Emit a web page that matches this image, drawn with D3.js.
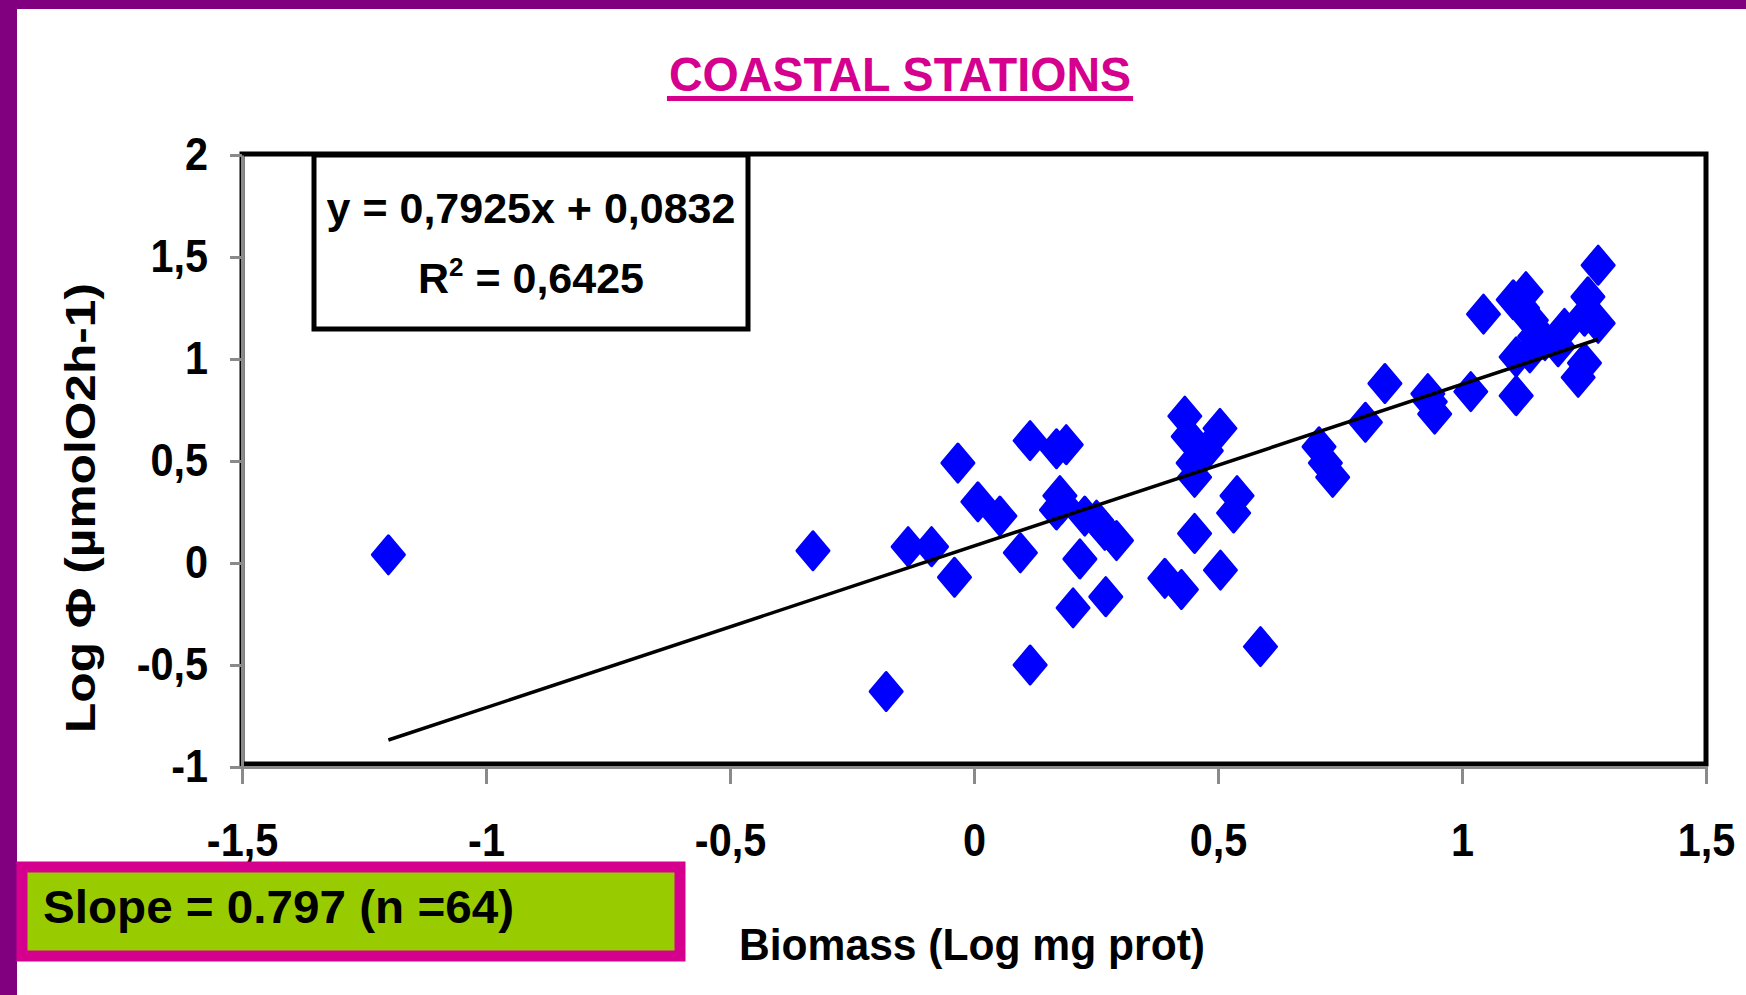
<!DOCTYPE html>
<html>
<head>
<meta charset="utf-8">
<script src="https://cdn.jsdelivr.net/npm/d3@7"></script>
<style>
  body { margin: 0; background: #fff; }
  svg { display: block; font-family: "Liberation Sans", Arial, sans-serif; font-weight: bold; }
  .axis .domain { stroke: #8a8a8a; stroke-width: 3; }
  .axis .tick line { stroke: #8a8a8a; stroke-width: 3; }
  .axis .tick text { fill: #000; font-size: 46px; font-family: "Liberation Sans", Arial, sans-serif; font-weight: bold; }
</style>
</head>
<body>
<div id="chart"></div>
<script>
// chart data
var biomass = [
  -1.20, -0.33, -0.18, -0.135, -0.087, -0.04, -0.033, 0.008, 0.053, 0.095,
  0.115, 0.115, 0.169, 0.189, 0.176, 0.169, 0.203, 0.217, 0.227, 0.251,
  0.27, 0.268, 0.292, 0.391, 0.425, 0.432, 0.439, 0.476, 0.452, 0.449,
  0.452, 0.504, 0.505, 0.539, 0.532, 0.587, 0.18,
  0.707, 0.72, 0.735, 0.802, 0.842, 0.930, 0.944, 0.935, 1.018, 1.044,
  1.105, 1.131, 1.142, 1.111, 1.139, 1.149, 1.111, 1.279, 1.258, 1.279,
  1.21, 1.197, 1.251, 1.238, 1.251, 1.124, 1.17
];
var logPhi = [
  0.04, 0.06, -0.63, 0.08, 0.08, -0.07, 0.49, 0.30, 0.23, 0.05,
  0.60, -0.50, 0.56, 0.58, 0.33, 0.26, -0.22, 0.02, 0.23, 0.21,
  -0.165, 0.16, 0.11, -0.075, -0.13, 0.72, 0.62, 0.55, 0.42, 0.49,
  0.145, 0.66, -0.035, 0.33, 0.245, -0.41, 0.29,
  0.57, 0.49, 0.42, 0.69, 0.88, 0.83, 0.73, 0.79, 0.84, 1.22,
  1.29, 1.33, 1.19, 1.01, 1.03, 1.11, 0.82, 1.46, 1.305, 1.175,
  1.15, 1.06, 0.98, 0.91, 1.21, 1.25, 1.09
];
var fitSlope = 0.7925;
var fitIntercept = 0.0832;
var xTicks = [-1.5, -1, -0.5, 0, 0.5, 1, 1.5];
var yTicks = [-1, -0.5, 0, 0.5, 1, 1.5, 2];
var titleText = 'COASTAL STATIONS';
var xTitle = 'Biomass (Log mg prot)';
var yTitle = 'Log \u03A6 (\u00B5molO2h-1)';
var eqLine1 = 'y = 0,7925x + 0,0832';
var eqR2 = '0,6425';
var slopeText = 'Slope = 0.797 (n =64)';

var width = 1746, height = 995;
var margin = { top: 155, right: 40, bottom: 228, left: 242 };
var plotW = 1706 - margin.left, plotH = 767 - margin.top;

var locale = d3.formatLocale({ decimal: ',', thousands: '.', grouping: [3], currency: ['', ''], minus: '-' });
var fmt = locale.format('');

var x = d3.scaleLinear().domain([-1.5, 1.5]).range([0, plotW]);
var y = d3.scaleLinear().domain([-1, 2]).range([plotH, 0]);

var svg = d3.select('#chart').append('svg').attr('width', width).attr('height', height);

// squeeze text a little, the slide font is narrower
function condense(sel, k) {
  sel.each(function() {
    var w = this.getComputedTextLength();
    d3.select(this).attr('textLength', w * k).attr('lengthAdjust', 'spacingAndGlyphs');
  });
}

// purple slide frame
svg.append('rect').attr('x', 0).attr('y', 0).attr('width', width).attr('height', 9).attr('fill', '#800080');
svg.append('rect').attr('x', 0).attr('y', 0).attr('width', 17).attr('height', height).attr('fill', '#800080');

// title
var title = svg.append('text')
  .attr('x', 900).attr('y', 91)
  .attr('text-anchor', 'middle')
  .attr('fill', '#d6008f')
  .style('font-size', '48px')
  .text(titleText);
condense(title, 0.97);
var tb = title.node().getBBox();
svg.append('rect')
  .attr('x', 900 - tb.width / 2 - 2).attr('y', 96)
  .attr('width', tb.width + 4).attr('height', 5)
  .attr('fill', '#d6008f');

var g = svg.append('g').attr('transform', 'translate(' + margin.left + ',' + margin.top + ')');

// plot area border
g.append('rect')
  .attr('x', 0).attr('y', -1)
  .attr('width', plotW).attr('height', plotH - 2)
  .attr('fill', 'none').attr('stroke', '#000').attr('stroke-width', 5);

// axes
g.append('g').attr('class', 'axis x')
  .attr('transform', 'translate(0,' + plotH + ')')
  .call(d3.axisBottom(x).tickValues(xTicks).tickFormat(fmt).tickSize(17).tickSizeOuter(0).tickPadding(39));

g.append('g').attr('class', 'axis y')
  .call(d3.axisLeft(y).tickValues(yTicks).tickFormat(fmt).tickSize(12).tickSizeOuter(0).tickPadding(22));

condense(g.selectAll('.axis .tick text'), 0.9);

// trend line
var xs = d3.extent(biomass);
var fitData = xs.map(function(v) { return { x: v, y: fitSlope * v + fitIntercept }; });
var fitLine = d3.line()
  .x(function(d) { return x(d.x); })
  .y(function(d) { return y(d.y); });

// points
var points = biomass.map(function(v, i) { return { x: v, y: logPhi[i] }; });
g.append('g').selectAll('path')
  .data(points)
  .enter().append('path')
    .attr('d', 'M0,-19L16,0L0,19L-16,0Z')
    .attr('transform', function(d) { return 'translate(' + x(d.x) + ',' + y(d.y) + ')'; })
    .attr('fill', '#0000ff')
    .attr('stroke', '#0000ff')
    .attr('stroke-width', 3)
    .attr('stroke-linejoin', 'round');

g.append('path').datum(fitData)
  .attr('d', fitLine)
  .attr('fill', 'none')
  .attr('stroke', '#000')
  .attr('stroke-width', 3.5);

// equation box
var eq = g.append('g').attr('transform', 'translate(72,0)');
eq.append('rect')
  .attr('x', 0).attr('y', 0).attr('width', 434).attr('height', 174)
  .attr('fill', '#fff').attr('stroke', '#000').attr('stroke-width', 5);
eq.append('text')
  .attr('x', 217).attr('y', 68)
  .attr('text-anchor', 'middle')
  .style('font-size', '43px')
  .text(eqLine1);
var r2 = eq.append('text')
  .attr('x', 217).attr('y', 138)
  .attr('text-anchor', 'middle')
  .style('font-size', '43px');
r2.append('tspan').text('R');
r2.append('tspan').attr('dy', -17).style('font-size', '26px').text('2');
r2.append('tspan').attr('dy', 17).text(' = ' + eqR2);

// axis titles
svg.append('text')
  .attr('x', 972).attr('y', 960)
  .attr('text-anchor', 'middle')
  .attr('textLength', 466).attr('lengthAdjust', 'spacingAndGlyphs')
  .style('font-size', '45px')
  .text(xTitle);

svg.append('text')
  .attr('transform', 'translate(95,508) rotate(-90)')
  .attr('text-anchor', 'middle')
  .attr('textLength', 450).attr('lengthAdjust', 'spacingAndGlyphs')
  .style('font-size', '43px')
  .text(yTitle);

// slope box
svg.append('rect')
  .attr('x', 22).attr('y', 867)
  .attr('width', 658).attr('height', 89)
  .attr('fill', '#99cc00')
  .attr('stroke', '#d6008f')
  .attr('stroke-width', 11);
svg.append('text')
  .attr('x', 43).attr('y', 923)
  .attr('textLength', 471).attr('lengthAdjust', 'spacingAndGlyphs')
  .style('font-size', '46px')
  .text(slopeText);
</script>
</body>
</html>
